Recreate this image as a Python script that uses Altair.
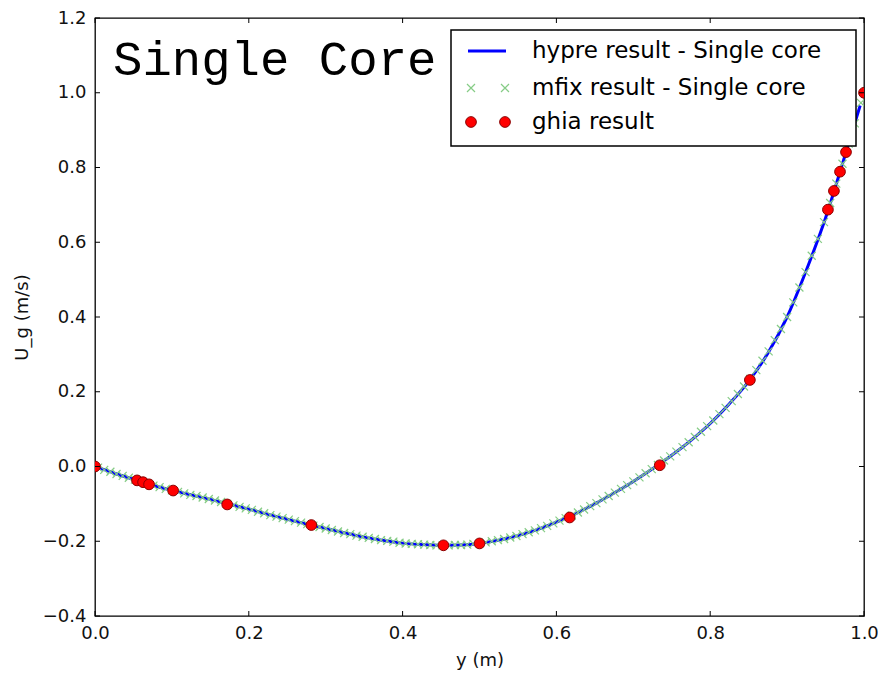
import altair as alt
import pandas as pd

# ---------------- data ----------------
# Ghia et al. reference points
ghia_y = [0.0, 0.0547, 0.0625, 0.0703, 0.1016, 0.1719, 0.2813, 0.4531, 0.5,
          0.6172, 0.7344, 0.8516, 0.9531, 0.9609, 0.9688, 0.9766, 1.0]
ghia_u = [0.0, -0.03717, -0.04192, -0.04775, -0.06434, -0.1015, -0.15662, -0.2109,
          -0.20581, -0.13641, 0.00332, 0.23151, 0.68717, 0.73722, 0.78871, 0.84123, 1.0]

# hypre line
hypre_y = [0.000, 0.025, 0.050, 0.075, 0.100, 0.125, 0.150, 0.175, 0.200, 0.225,
           0.250, 0.275, 0.300, 0.325, 0.350, 0.375, 0.400, 0.425, 0.450, 0.475,
           0.500, 0.525, 0.550, 0.575, 0.600, 0.625, 0.650, 0.675, 0.700, 0.725,
           0.750, 0.775, 0.800, 0.825, 0.850, 0.875, 0.900, 0.925, 0.950, 0.975,
           0.995]
hypre_u = [0.000, -0.018, -0.034, -0.050, -0.064, -0.076, -0.088, -0.101, -0.114, -0.128,
           -0.141, -0.154, -0.166, -0.178, -0.189, -0.198, -0.205, -0.209, -0.211, -0.210,
           -0.206, -0.197, -0.185, -0.169, -0.149, -0.126, -0.100, -0.071, -0.040, -0.006,
           0.030, 0.070, 0.115, 0.168, 0.228, 0.303, 0.400, 0.525, 0.665, 0.830,
           0.966]

# mfix cell values
mfix_y = [0.004, 0.012, 0.020, 0.028, 0.036, 0.044, 0.052, 0.060, 0.068, 0.076,
          0.084, 0.092, 0.100, 0.108, 0.116, 0.124, 0.132, 0.140, 0.148, 0.156,
          0.164, 0.172, 0.180, 0.188, 0.196, 0.204, 0.212, 0.220, 0.228, 0.236,
          0.244, 0.252, 0.260, 0.268, 0.276, 0.284, 0.292, 0.300, 0.308, 0.316,
          0.324, 0.332, 0.340, 0.348, 0.356, 0.364, 0.372, 0.380, 0.388, 0.396,
          0.404, 0.412, 0.420, 0.428, 0.436, 0.444, 0.452, 0.460, 0.468, 0.476,
          0.484, 0.492, 0.500, 0.508, 0.516, 0.524, 0.532, 0.540, 0.548, 0.556,
          0.564, 0.572, 0.580, 0.588, 0.596, 0.604, 0.612, 0.620, 0.628, 0.636,
          0.644, 0.652, 0.660, 0.668, 0.676, 0.684, 0.692, 0.700, 0.708, 0.716,
          0.724, 0.732, 0.740, 0.748, 0.756, 0.764, 0.772, 0.780, 0.788, 0.796,
          0.804, 0.812, 0.820, 0.828, 0.836, 0.844, 0.852, 0.860, 0.868, 0.876,
          0.884, 0.892, 0.900, 0.908, 0.916, 0.924, 0.932, 0.940, 0.948, 0.956,
          0.964, 0.972, 0.980, 0.988, 0.996]
mfix_u = [-0.003, -0.009, -0.014, -0.020, -0.025, -0.030, -0.035, -0.040, -0.046, -0.051,
          -0.055, -0.060, -0.064, -0.068, -0.072, -0.076, -0.079, -0.083, -0.087, -0.091,
          -0.095, -0.100, -0.104, -0.108, -0.112, -0.116, -0.121, -0.125, -0.130, -0.134,
          -0.138, -0.142, -0.146, -0.150, -0.154, -0.158, -0.162, -0.166, -0.170, -0.174,
          -0.178, -0.181, -0.185, -0.188, -0.191, -0.194, -0.197, -0.199, -0.201, -0.204,
          -0.206, -0.207, -0.208, -0.209, -0.210, -0.211, -0.211, -0.211, -0.210, -0.210,
          -0.209, -0.207, -0.206, -0.203, -0.200, -0.197, -0.194, -0.190, -0.186, -0.181,
          -0.176, -0.171, -0.165, -0.159, -0.152, -0.145, -0.138, -0.131, -0.123, -0.115,
          -0.106, -0.098, -0.088, -0.079, -0.070, -0.060, -0.050, -0.040, -0.029, -0.018,
          -0.007, 0.004, 0.016, 0.027, 0.040, 0.052, 0.065, 0.079, 0.093, 0.108,
          0.123, 0.140, 0.157, 0.175, 0.194, 0.214, 0.234, 0.258, 0.283, 0.308,
          0.338, 0.368, 0.400, 0.439, 0.479, 0.520, 0.564, 0.609, 0.654, 0.705,
          0.757, 0.810, 0.864, 0.918, 0.973]

x_ticks = [0.0, 0.2, 0.4, 0.6, 0.8, 1.0]
y_ticks = [-0.4, -0.2, 0.0, 0.2, 0.4, 0.6, 0.8, 1.0, 1.2]

legend_labels = ["hypre result - Single core", "mfix result - Single core", "ghia result"]
annotation = "Single Core"

# ---------------- layout / style ----------------
W, H = 769, 598
PAD_L = 87
FONT = "DejaVu Sans"
TICK = 5
CROSS_COLOR = "#86cc86"

xs = alt.Scale(domain=[0, 1], nice=False, zero=False)
ys = alt.Scale(domain=[-0.4, 1.2], nice=False, zero=False)

x_axis = alt.Axis(values=x_ticks, format=".1f", title="y (m)", ticks=False, domain=False,
                  grid=False, labelPadding=8, labelFlush=False, titleX=W / 2, titleY=44,
                  titleBaseline="middle", titleAlign="center")
y_axis = alt.Axis(values=y_ticks, format=".1f", title="U_g (m/s)", ticks=False, domain=False,
                  grid=False, labelPadding=9, labelFlush=False, titleX=-73, titleY=H / 2,
                  titleAngle=270, titleBaseline="middle", titleAlign="center")

df_h = pd.DataFrame({"y": hypre_y, "u": hypre_u})
df_m = pd.DataFrame({"y": mfix_y, "u": mfix_u})
df_g = pd.DataFrame({"y": ghia_y, "u": ghia_u})

X_PATH = "M-1,-1L1,1M-1,1L1,-1"

line = alt.Chart(df_h).mark_line(color="#0000ff", strokeWidth=3, clip=True,
                                 interpolate="monotone").encode(
    x=alt.X("y:Q", scale=xs, axis=x_axis),
    y=alt.Y("u:Q", scale=ys, axis=y_axis),
)
crosses = alt.Chart(df_m).mark_point(shape=X_PATH, filled=False, color=CROSS_COLOR,
                                     strokeWidth=1.2, size=64, clip=True, opacity=1).encode(
    x=alt.X("y:Q", scale=xs, axis=x_axis), y=alt.Y("u:Q", scale=ys, axis=y_axis))
dots = alt.Chart(df_g).mark_point(shape="circle", filled=True, fill="#ff0000",
                                  stroke="#8b0000", strokeWidth=1, size=115,
                                  clip=True, opacity=1).encode(
    x=alt.X("y:Q", scale=xs, axis=x_axis), y=alt.Y("u:Q", scale=ys, axis=y_axis))

# inward ticks on all four sides
dx = pd.DataFrame({"y": x_ticks})
dy = pd.DataFrame({"u": y_ticks})
tb = alt.Chart(dx).mark_rule(color="black", strokeWidth=1).encode(
    x=alt.X("y:Q", scale=xs, axis=x_axis), y=alt.value(H), y2=alt.value(H - TICK))
tt = alt.Chart(dx).mark_rule(color="black", strokeWidth=1).encode(
    x=alt.X("y:Q", scale=xs, axis=x_axis), y=alt.value(0), y2=alt.value(TICK))
tl = alt.Chart(dy).mark_rule(color="black", strokeWidth=1).encode(
    y=alt.Y("u:Q", scale=ys, axis=y_axis), x=alt.value(0), x2=alt.value(TICK))
tr = alt.Chart(dy).mark_rule(color="black", strokeWidth=1).encode(
    y=alt.Y("u:Q", scale=ys, axis=y_axis), x=alt.value(W), x2=alt.value(W - TICK))

# annotation
one = pd.DataFrame({"k": [0]})
ann = alt.Chart(one).mark_text(text=annotation, font="Liberation Mono", fontSize=49,
                               align="left", baseline="alphabetic", color="black").encode(
    x=alt.value(18), y=alt.value(57))

# legend box
leg_box = alt.Chart(one).mark_rect(fill="white", stroke="black", strokeWidth=1.5).encode(
    x=alt.value(356), x2=alt.value(761), y=alt.value(12), y2=alt.value(128))
row_y = [33, 70, 104]
leg_line = alt.Chart(one).mark_rule(color="#0000ff", strokeWidth=3).encode(
    x=alt.value(373), x2=alt.value(411), y=alt.value(row_y[0]))
leg_layers = [leg_box, leg_line]
for xv in (376, 410):
    leg_layers.append(alt.Chart(one).mark_point(shape=X_PATH, filled=False, color=CROSS_COLOR,
                                                strokeWidth=1.2, size=64, opacity=1).encode(
        x=alt.value(xv), y=alt.value(row_y[1])))
    leg_layers.append(alt.Chart(one).mark_point(shape="circle", filled=True, fill="#ff0000",
                                                stroke="#8b0000", strokeWidth=1, size=115,
                                                opacity=1).encode(
        x=alt.value(xv), y=alt.value(row_y[2])))
for lab, ry in zip(legend_labels, row_y):
    leg_layers.append(alt.Chart(one).mark_text(text=lab, font=FONT, fontSize=23,
                                               align="left", baseline="middle",
                                               color="black").encode(
        x=alt.value(437), y=alt.value(ry)))

chart = alt.layer(line, crosses, dots, tb, tt, tl, tr, ann, *leg_layers).properties(
    width=W, height=H, autosize=alt.AutoSizeParams(type="none"),
    padding={"left": PAD_L, "top": 10, "right": 14, "bottom": 56},
).configure_view(stroke="black", strokeWidth=1.3).configure_axis(
    labelFont=FONT, labelFontSize=18, labelColor="#111", titleFont=FONT, titleFontSize=18,
    titleFontWeight="normal", titleColor="#111",
)

chart.save("out.html", embed_options={"renderer": "svg", "actions": False})
